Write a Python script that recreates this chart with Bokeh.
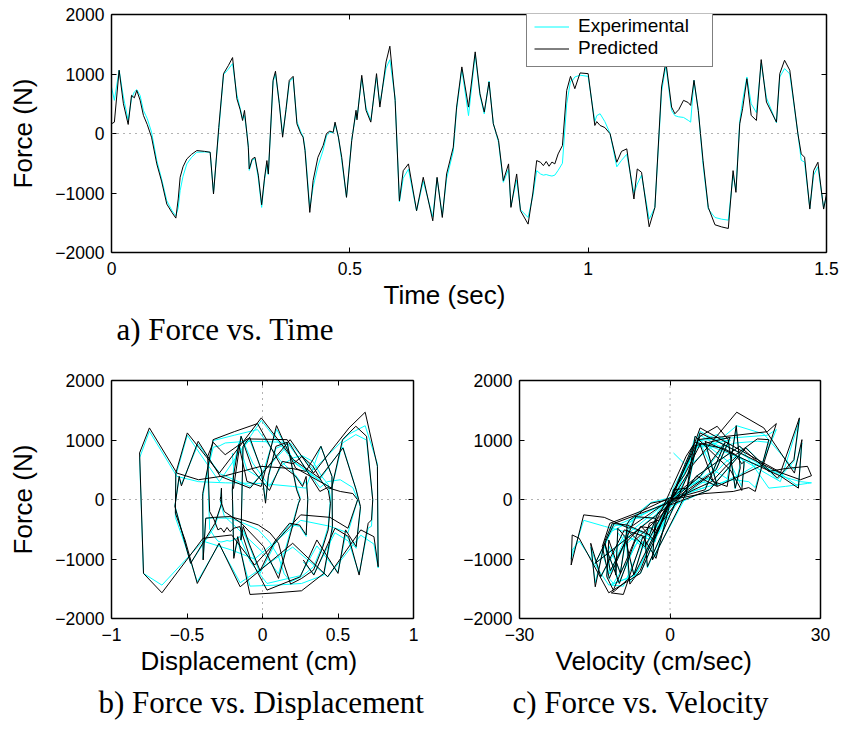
from bokeh.plotting import figure
from bokeh.models import (LinearAxis, FixedTicker, Span, Legend, LegendItem,
                          Title, Range1d, ColumnDataSource)
from bokeh.layouts import column, row
from bokeh.embed import file_html
from bokeh.resources import INLINE

# ---------------- data ----------------
time = [0.000, 0.006, 0.016, 0.025, 0.035, 0.042, 0.048, 0.053, 0.060, 0.067, 0.075, 0.084,
        0.095, 0.105, 0.116, 0.127, 0.135, 0.140, 0.144, 0.150, 0.158, 0.168, 0.179, 0.195,
        0.207, 0.214, 0.225, 0.235, 0.245, 0.254, 0.263, 0.270, 0.275, 0.279, 0.284, 0.287,
        0.289, 0.295, 0.301, 0.308, 0.315, 0.321, 0.326, 0.329, 0.339, 0.344, 0.352, 0.359,
        0.366, 0.373, 0.381, 0.389, 0.397, 0.402, 0.406, 0.416, 0.423, 0.433, 0.444, 0.451,
        0.458, 0.465, 0.469, 0.476, 0.483, 0.493, 0.504, 0.513, 0.515, 0.525, 0.534, 0.544,
        0.556, 0.563, 0.576, 0.584, 0.595, 0.604, 0.612, 0.623, 0.640, 0.654, 0.674, 0.683,
        0.694, 0.703, 0.717, 0.724, 0.735, 0.749, 0.763, 0.773, 0.782, 0.792, 0.801, 0.812,
        0.822, 0.833, 0.838, 0.850, 0.858, 0.874, 0.884, 0.892, 0.900, 0.906, 0.912, 0.918,
        0.924, 0.930, 0.937, 0.946, 0.955, 0.963, 0.968, 0.972, 0.983, 1.000, 1.014, 1.018,
        1.025, 1.035, 1.046, 1.060, 1.070, 1.081, 1.096, 1.103, 1.112, 1.128, 1.140, 1.154,
        1.163, 1.175, 1.182, 1.190, 1.200, 1.210, 1.215, 1.222, 1.231, 1.241, 1.252, 1.266,
        1.280, 1.294, 1.304, 1.310, 1.318, 1.324, 1.333, 1.342, 1.353, 1.363, 1.374, 1.395,
        1.402, 1.412, 1.423, 1.440, 1.447, 1.454, 1.465, 1.473, 1.482, 1.494, 1.500]

force_predicted = [163, 191, 1063, 500, 152, 641, 600, 725, 560, 304, 150, -62,
                   -511, -800, -1186, -1330, -1422, -1100, -736, -560, -427, -350, -287, -300,
                   -315, -1017, 100, 1006, 1140, 1276, 585, 400, 219, 388, 0, -230,
                   -596, -430, -399, -700, -1197, -750, -455, -680, 894, 1046, 500, -62,
                   400, 894, 961, 163, 0, -62, -287, -1326, -790, -400, -202, 0,
                   40, 20, 191, -60, -400, -1073, -118, 390, 230, 978, 390, 191,
                   1006, 444, 1203, 1467, 557, -1130, -625, -511, -1298, -736, -1467, -736,
                   -1411, -680, -230, 444, 1119, 444, 1372, 669, 360, 866, 163, -118,
                   -792, -511, -1242, -680, -1298, -1523, -1000, -455, -483, -540, -470, -550,
                   -480, -511, -343, -202, 725, 961, 850, 753, 1018, 1006, 135, 200,
                   135, 100, -5, -483, -300, -258, -1101, -596, -652, -1568, -1242, 782,
                   1203, 444, 332, 400, 557, 520, 472, 894, 388, -455, -1242, -1534,
                   -1570, -1596, -624, -989, 163, 416, 922, 304, 219, 1242, 529, 191,
                   1006, 1231, 1063, -5, -343, -399, -1270, -624, -483, -1270, -1017]

force_experimental = [782, 557, 1063, 613, 219, 585, 700, 737, 640, 388, 250, 23,
                      -455, -760, -1130, -1300, -1383, -1250, -961, -720, -511, -400, -315, -310,
                      -315, -1000, 50, 990, 1080, 1175, 650, 420, 250, 300, 20, -200,
                      -620, -450, -420, -750, -1242, -780, -520, -690, 870, 1000, 520, -20,
                      380, 860, 940, 200, 30, -50, -250, -1250, -900, -550, -280, -40,
                      20, 10, 170, -60, -450, -1070, -100, 350, 260, 930, 430, 220,
                      950, 500, 1100, 1240, 600, -1150, -750, -600, -1300, -800, -1400, -750,
                      -1380, -760, -300, 400, 1080, 300, 1330, 640, 330, 880, 170, -150,
                      -820, -600, -1220, -780, -1280, -1411, -1050, -624, -680, -700, -690, -705,
                      -715, -700, -620, -500, 500, 880, 900, 950, 980, 960, 200, 300,
                      332, 200, 0, -560, -450, -350, -1000, -850, -700, -1439, -1242, 700,
                      1147, 388, 300, 280, 270, 220, 191, 894, 388, -520, -1270, -1411,
                      -1440, -1456, -700, -950, 200, 550, 950, 500, 350, 1180, 600, 180,
                      950, 1091, 1000, 0, -450, -480, -1250, -700, -560, -1250, -1050]

displacement = [-0.200, -0.192, -0.142, -0.065, 0.046, 0.131, 0.204, 0.262, 0.334, 0.392, 0.436, 0.450,
                0.435, 0.399, 0.338, 0.257, 0.186, 0.144, 0.106, 0.049, -0.028, -0.122, -0.216, -0.318,
                -0.376, -0.393, -0.396, -0.327, -0.187, -0.033, 0.119, 0.216, 0.265, 0.289, 0.300, 0.296,
                0.289, 0.246, 0.179, 0.082, -0.016, -0.087, -0.128, -0.143, -0.129, -0.085, -0.008, 0.020,
                0.039, 0.089, 0.163, 0.226, 0.250, 0.239, 0.216, 0.106, 0.007, -0.139, -0.253, -0.279,
                -0.278, -0.276, -0.272, -0.270, -0.315, -0.476, -0.580, -0.552, -0.537, -0.426, -0.280, -0.082,
                0.183, 0.338, 0.573, 0.680, 0.761, 0.766, 0.738, 0.651, 0.432, 0.200, -0.148, -0.288,
                -0.432, -0.513, -0.577, -0.574, -0.498, -0.286, -0.008, 0.205, 0.378, 0.533, 0.620, 0.649,
                0.620, 0.550, 0.500, 0.360, 0.250, 0.030, -0.080, -0.150, -0.190, -0.215, -0.235, -0.255,
                -0.275, -0.295, -0.320, -0.350, -0.363, -0.326, -0.286, -0.247, -0.100, 0.163, 0.380, 0.430,
                0.515, 0.598, 0.630, 0.566, 0.447, 0.253, -0.052, -0.204, -0.394, -0.666, -0.788, -0.814,
                -0.749, -0.567, -0.424, -0.246, -0.011, 0.199, 0.287, 0.387, 0.460, 0.463, 0.406, 0.259,
                0.083, -0.083, -0.164, -0.190, -0.200, -0.191, -0.157, -0.103, -0.009, 0.093, 0.219, 0.458,
                0.530, 0.618, 0.689, 0.730, 0.722, 0.700, 0.640, 0.570, 0.480, 0.340, 0.270]

velocity = [0.7, 3.4, 5.0, 12.0, 14.3, 14.8, 14.3, 13.3, 11.2, 8.4, 4.4, -0.2,
            -2.3, -4.1, -5.9, -7.2, -8.0, -8.3, -8.5, -8.6, -8.6, -8.1, -7.1, -5.1,
            -2.9, -3.5, 3.2, 5.5, 19.4, 21.2, 18.6, 14.0, 9.4, 5.4, 0.0, -2.4,
            -4.1, -8.5, -11.5, -13.0, -11.9, -9.1, -5.7, -3.3, 4.5, 12.0, 9.2, -0.3,
            6.1, 10.4, 11.0, 7.0, 0.0, -3.8, -6.8, -12.1, -13.5, -12.0, -5.9, -0.8,
            0.4, 0.2, 1.8, -0.4, -11.1, -14.9, -0.5, 7.7, 9.4, 7.0, 22.1, 25.6,
            26.3, 24.8, 18.7, 13.3, 4.3, -4.5, -5.0, -9.1, -13.8, -15.8, -14.9, -13.1,
            -10.1, -6.9, -1.3, 3.6, 6.0, 22.0, 25.8, 24.7, 21.4, 15.1, 7.9, -0.7,
            -5.0, -8.6, -9.9, -12.2, -12.6, -11.3, -8.6, -5.9, -3.6, -3.2, -2.9, -3.1,
            -3.0, -2.9, -2.7, -1.8, 3.2, 5.0, 10.9, 13.1, 17.4, 19.7, 17.0, 15.7,
            12.6, 6.8, 0.0, -8.2, -13.1, -17.2, -19.7, -19.5, -18.1, -12.2, -5.9, 4.2,
            6.0, 22.3, 26.0, 28.2, 27.4, 23.0, 19.7, 13.9, 5.2, -2.3, -7.0, -11.0,
            -11.7, -9.3, -5.4, -2.8, 0.7, 2.9, 6.0, 8.6, 11.4, 13.2, 14.0, 13.0,
            11.6, 9.4, 6.0, 0.0, -2.1, -4.1, -7.2, -9.0, -10.4, -10.8, -10.8]

series_names = ["Experimental", "Predicted"]

time_ticks = [0, 0.5, 1, 1.5]
time_tick_labels = ["0", "0.5", "1", "1.5"]
force_ticks = [-2000, -1000, 0, 1000, 2000]
force_tick_labels = ["\u22122000", "\u22121000", "0", "1000", "2000"]
disp_ticks = [-1, -0.5, 0, 0.5, 1]
disp_tick_labels = ["\u22121", "\u22120.5", "0", "0.5", "1"]
vel_ticks = [-30, 0, 30]
vel_tick_labels = ["\u221230", "0", "30"]

src = ColumnDataSource(dict(t=time, fp=force_predicted, fe=force_experimental,
                            d=displacement, v=velocity))

CYAN = "#00FFFF"
SANS = "Liberation Sans"
SERIF = "Liberation Serif"
TICK_SIZE = "17.5px"


def add_axes(p, xt, xl, yt, yl, ylabel=None):
    def mk(ticks, labels, visible):
        ax = LinearAxis(ticker=FixedTicker(ticks=ticks, minor_ticks=[]),
                        major_label_overrides=({t: s for t, s in zip(ticks, labels)} if visible
                                               else {t: "" for t in ticks}),
                        major_tick_in=5, major_tick_out=0,
                        minor_tick_line_color=None,
                        axis_line_width=1.5, axis_line_color="black",
                        major_tick_line_color="black", major_tick_line_width=1,
                        major_label_text_font=SANS,
                        major_label_text_font_size=TICK_SIZE if visible else "0px",
                        major_label_text_color="black")
        return ax
    xb = mk(xt, xl, True)
    xb.major_label_standoff = 9
    p.add_layout(xb, "below")
    ya = mk(yt, yl, True)
    ya.major_label_standoff = 7
    if ylabel:
        ya.axis_label = ylabel
        ya.axis_label_text_font = SANS
        ya.axis_label_text_font_size = "26px"
        ya.axis_label_text_font_style = "normal"
        ya.axis_label_text_color = "black"
        ya.axis_label_standoff = 14
    p.add_layout(ya, "left")
    xa = mk(xt, xl, False)
    xa.major_label_standoff = 0
    p.add_layout(xa, "above")
    yr = mk(yt, yl, False)
    yr.major_label_standoff = 0
    p.add_layout(yr, "right")


def base_fig(fw, fh, bl, br, bt, bb, xr, yr):
    p = figure(frame_width=fw, frame_height=fh, min_border_left=bl, min_border_right=br,
               min_border_top=bt, min_border_bottom=bb,
               x_range=Range1d(*xr), y_range=Range1d(*yr),
               x_axis_type=None, y_axis_type=None,
               output_backend="svg", toolbar_location=None)
    p.outline_line_color = None
    p.background_fill_color = "white"
    p.border_fill_color = "white"
    return p


def title(text, font, size, align="left", offset=0, standoff=0):
    return Title(text=text, align=align, offset=offset, standoff=standoff,
                 text_font=font, text_font_size=size, text_font_style="normal",
                 text_color="black")


def zero_span(p, dim):
    p.add_layout(Span(location=0, dimension=dim, line_color="#666666",
                      line_dash="1 5", line_width=1))


# ---------------- a) Force vs. Time ----------------
pA = base_fig(715, 238, 111, 14, 14, 98, (0, 1.5), (-2000, 2000))
add_axes(pA, time_ticks, time_tick_labels, force_ticks, force_tick_labels, "Force (N)")
zero_span(pA, "width")
rE = pA.line("t", "fe", source=src, line_color=CYAN, line_width=1)
rP = pA.line("t", "fp", source=src, line_color="black", line_width=1)
legend = Legend(items=[LegendItem(label=series_names[0], renderers=[rE]),
                       LegendItem(label=series_names[1], renderers=[rP])],
                location=(415, 185), border_line_color="black", border_line_width=1.5,
                label_text_font=SANS, label_text_font_size="19px", label_text_color="black",
                glyph_width=35, glyph_height=19, label_height=19, label_width=127,
                label_standoff=9, spacing=0, padding=7, margin=0,
                background_fill_color="white", background_fill_alpha=1)
pA.add_layout(legend)
pA.add_layout(title("Time (sec)", SANS, "26px", offset=272), "below")
pA.add_layout(title("a) Force vs. Time", SERIF, "31px", offset=5), "below")

# ---------------- b) Force vs. Displacement ----------------
pB = base_fig(302, 238, 111, 20, 30, 107, (-1, 1), (-2000, 2000))
add_axes(pB, disp_ticks, disp_tick_labels, force_ticks, force_tick_labels, "Force (N)")
zero_span(pB, "width")
zero_span(pB, "height")
pB.line("d", "fe", source=src, line_color=CYAN, line_width=1)
pB.line("d", "fp", source=src, line_color="black", line_width=1)
pB.add_layout(title("Displacement (cm)", SANS, "26px", offset=29), "below")
pB.add_layout(title("b) Force vs. Displacement", SERIF, "31px", offset=-13, standoff=14), "below")

# ---------------- c) Force vs. Velocity ----------------
pC = base_fig(301, 238, 86, 12, 29, 108, (-30, 30), (-2000, 2000))
add_axes(pC, vel_ticks, vel_tick_labels, force_ticks, force_tick_labels)
zero_span(pC, "width")
zero_span(pC, "height")
pC.line("v", "fe", source=src, line_color=CYAN, line_width=1)
pC.line("v", "fp", source=src, line_color="black", line_width=1)
pC.add_layout(title("Velocity (cm/sec)", SANS, "26px", offset=36), "below")
pC.add_layout(title("c) Force vs. Velocity", SERIF, "31px", offset=-7, standoff=14), "below")

layout = column(pA, row(pB, pC))
open("out.html", "w").write(file_html(layout, INLINE))
